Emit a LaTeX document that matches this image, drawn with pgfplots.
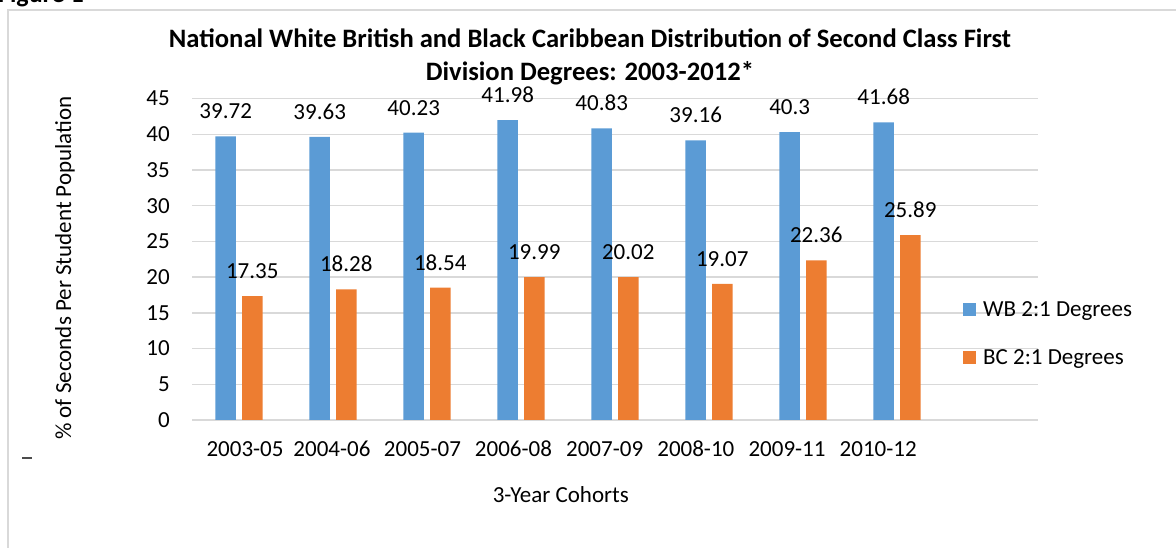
\documentclass[border=0pt]{standalone}
\usepackage{pgfplots}
\pgfplotsset{compat=1.18}
\usepackage{fontspec}
\setmainfont{Carlito}
\definecolor{wbblue}{HTML}{5B9BD5}
\definecolor{bcorange}{HTML}{ED7D31}
\definecolor{gridgray}{HTML}{D9D9D9}
\newcommand\lbl{\fontsize{23bp}{27bp}\selectfont}
\newcommand\ttl{\fontsize{26.6bp}{33bp}\selectfont\bfseries}
\begin{document}
\begin{tikzpicture}
\useasboundingbox (0bp,0bp) rectangle (1176bp,548bp);
\draw[gridgray, line width=1.5bp] (8bp,-20bp) rectangle (1200bp,538bp);
\node[anchor=base east, font=\fontsize{26bp}{30bp}\selectfont\bfseries, inner sep=0pt] at (84bp,545bp) {Figure 1};
\draw[black!70, line width=1.2bp] (22bp,90bp) -- (32bp,90bp);
\begin{axis}[
  at={(192bp,128bp)}, anchor=south west,
  scale only axis, width=846bp, height=321.4bp,
  ybar, bar width=20.5bp,
  xmin=-0.5, xmax=8.5, ymin=0, ymax=45,
  ytick={0,5,...,45},
  xtick={0.064,0.989,1.952,2.92,3.89,4.86,5.83,6.80},
  xticklabels={2003-05,2004-06,2005-07,2006-08,2007-09,2008-10,2009-11,2010-12},
  ymajorgrids, grid style={gridgray, line width=1.5bp},
  axis line style={draw=none},
  tick style={draw=none},
  /pgf/number format/assume math mode=true,
  ticklabel style={font=\lbl},
  yticklabel style={anchor=east, inner sep=0pt, xshift=-22bp},
  xticklabel style={anchor=base, inner sep=0pt, yshift=-32bp},
  title={National White British and Black Caribbean Distribution of Second Class First\\Division Degrees: 2003-2012*},
  title style={font=\ttl, align=center, at={(axis description cs:0.4704,1.111)}, anchor=center, inner sep=0pt},
  xlabel={3-Year Cohorts},
  xlabel style={font=\lbl, at={(axis description cs:0.436,-0.258)}, anchor=base, inner sep=0pt},
  ylabel={\% of Seconds Per Student Population},
  ylabel style={font=\lbl, at={(axis description cs:-0.150,0.473)}, anchor=center, inner sep=0pt},
  nodes near coords,
  every node near coord/.append style={font=\lbl, anchor=base, yshift=17.5bp, inner sep=0pt, text=black},
  legend style={at={(axis description cs:0.9113,0.3767)}, anchor=north west, draw=none, fill=none, font=\lbl, inner sep=0pt, row sep=28bp, nodes={inner sep=2bp}, /tikz/every odd column/.append style={column sep=5bp}},
  legend cell align=left,
  legend image code/.code={\fill[#1] (0bp,-6.5bp) rectangle (13bp,6.5bp);},
]
\addplot[fill=wbblue, draw=none, bar shift=-13.3bp] coordinates {(0,39.72) (1,39.63) (2,40.23) (3,41.98) (4,40.83) (5,39.16) (6,40.3) (7,41.68)};
\addplot[fill=bcorange, draw=none, bar shift=13.3bp] coordinates {(0,17.35) (1,18.28) (2,18.54) (3,19.99) (4,20.02) (5,19.07) (6,22.36) (7,25.89)};
\legend{WB 2:1 Degrees, BC 2:1 Degrees}
\end{axis}
\end{tikzpicture}
\end{document}
